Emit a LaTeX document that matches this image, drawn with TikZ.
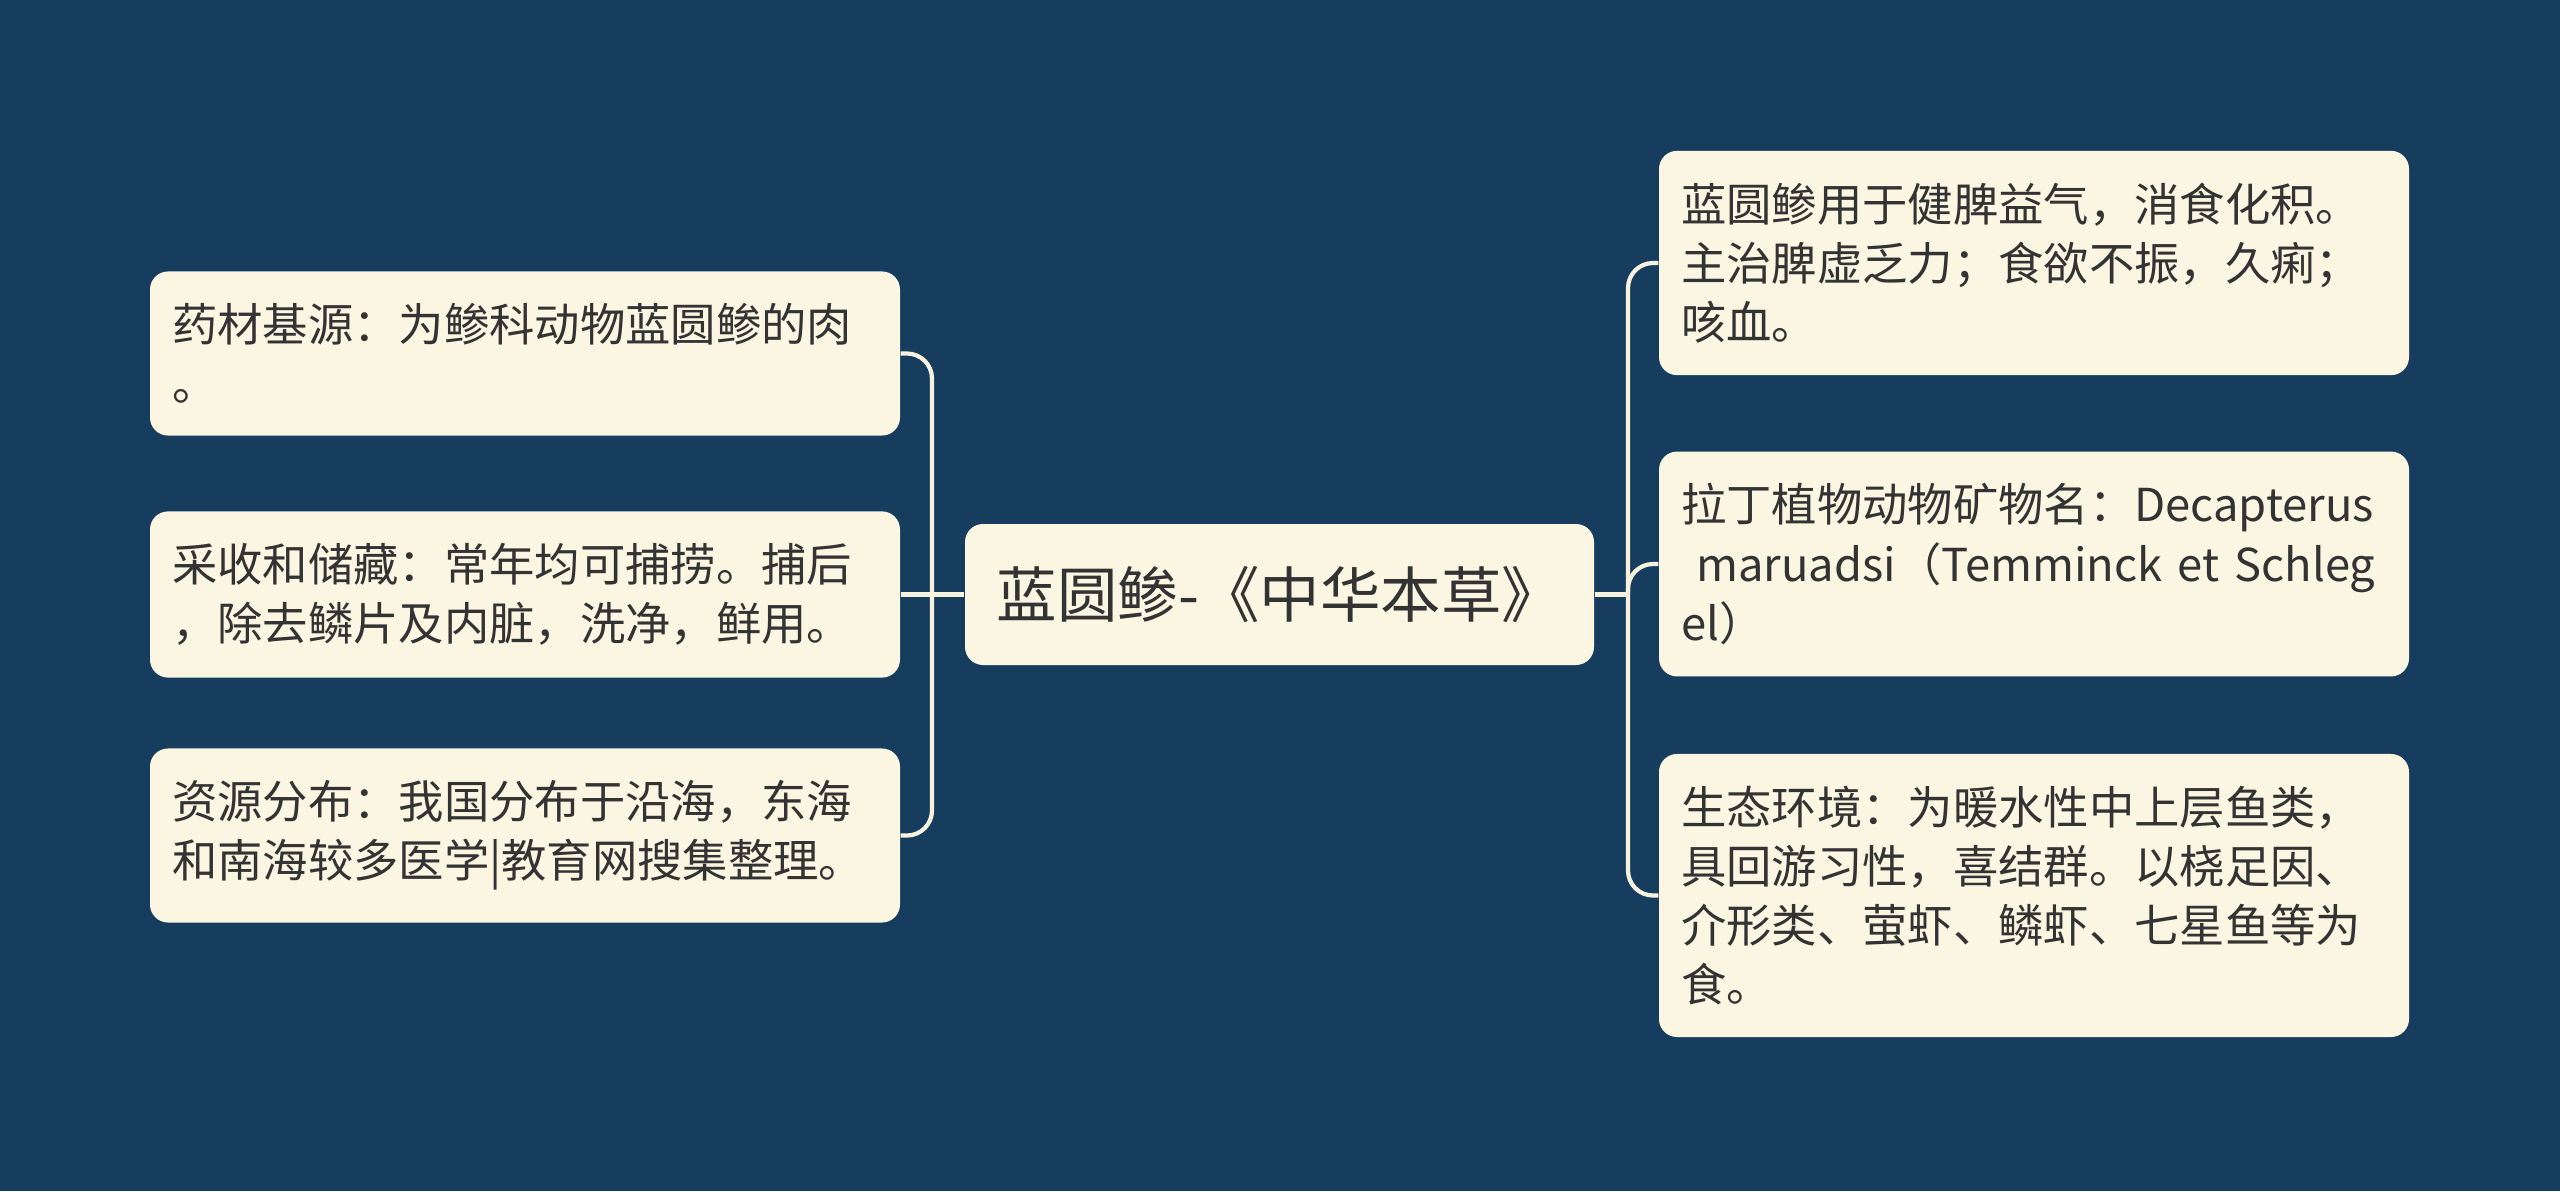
\documentclass[tikz,border=0pt]{standalone}
\usepackage{fontspec}
\setmainfont{Noto Sans CJK SC}
\definecolor{bgblue}{HTML}{173D5E}
\definecolor{boxfill}{HTML}{FAF6E2}
\definecolor{inkgray}{HTML}{333333}
\definecolor{linkline}{HTML}{F6F2DE}
\begin{document}
\begin{tikzpicture}[
  leaf/.style={fill=boxfill, text=inkgray, rounded corners=0.18cm, align=left,
    text width=7.06cm, inner xsep=0.22cm, inner ysep=0.32cm,
    font=\fontsize{12.9pt}{16.8pt}\selectfont},
  rootbox/.style={fill=boxfill, text=inkgray, rounded corners=0.18cm,
    minimum width=6.29cm, minimum height=1.41cm,
    font=\fontsize{17.2pt}{20pt}\selectfont},
  link/.style={linkline, line width=1.2pt, rounded corners=0.25cm}
]
\fill[bgblue] (0,0) rectangle (25.6,11.91);
\useasboundingbox (0,0) rectangle (25.6,11.91);

\node[rootbox] (root) at (12.795,5.965) {蓝圆鲹-《中华本草》};

\node[leaf] (l1) at (5.25,8.375) {药材基源：为鲹科动物蓝圆鲹的肉\\。};
\node[leaf] (l2) at (5.25,5.965) {采收和储藏：常年均可捕捞。捕后\\，除去鳞片及内脏，洗净，鲜用。};
\node[leaf] (l3) at (5.25,3.555) {资源分布：我国分布于沿海，东海\\和南海较多医学|教育网搜集整理。};

\node[leaf] (r1) at (20.34,9.28) {蓝圆鲹用于健脾益气，消食化积。\\主治脾虚乏力；食欲不振，久痢；\\咳血。};
\node[leaf] (r2) at (20.34,6.27) {拉丁植物动物矿物名：Decapterus\\\ maruadsi（Temminck et Schleg\\el）};
\node[leaf] (r3) at (20.34,2.955) {生态环境：为暖水性中上层鱼类，\\具回游习性，喜结群。以桡足因、\\介形类、萤虾、鳞虾、七星鱼等为\\食。};

\coordinate (lj) at (9.32,5.965);
\coordinate (rj) at (16.28,5.965);

\draw[link] (root.west) -- (lj);
\draw[link] (lj) |- (l1.east);
\draw[link] (lj) -- (l2.east);
\draw[link] (lj) |- (l3.east);

\draw[link] (root.east) -- (rj);
\draw[link] (rj) |- (r1.west);
\draw[link] (rj) |- (r2.west);
\draw[link] (rj) |- (r3.west);
\end{tikzpicture}
\end{document}
